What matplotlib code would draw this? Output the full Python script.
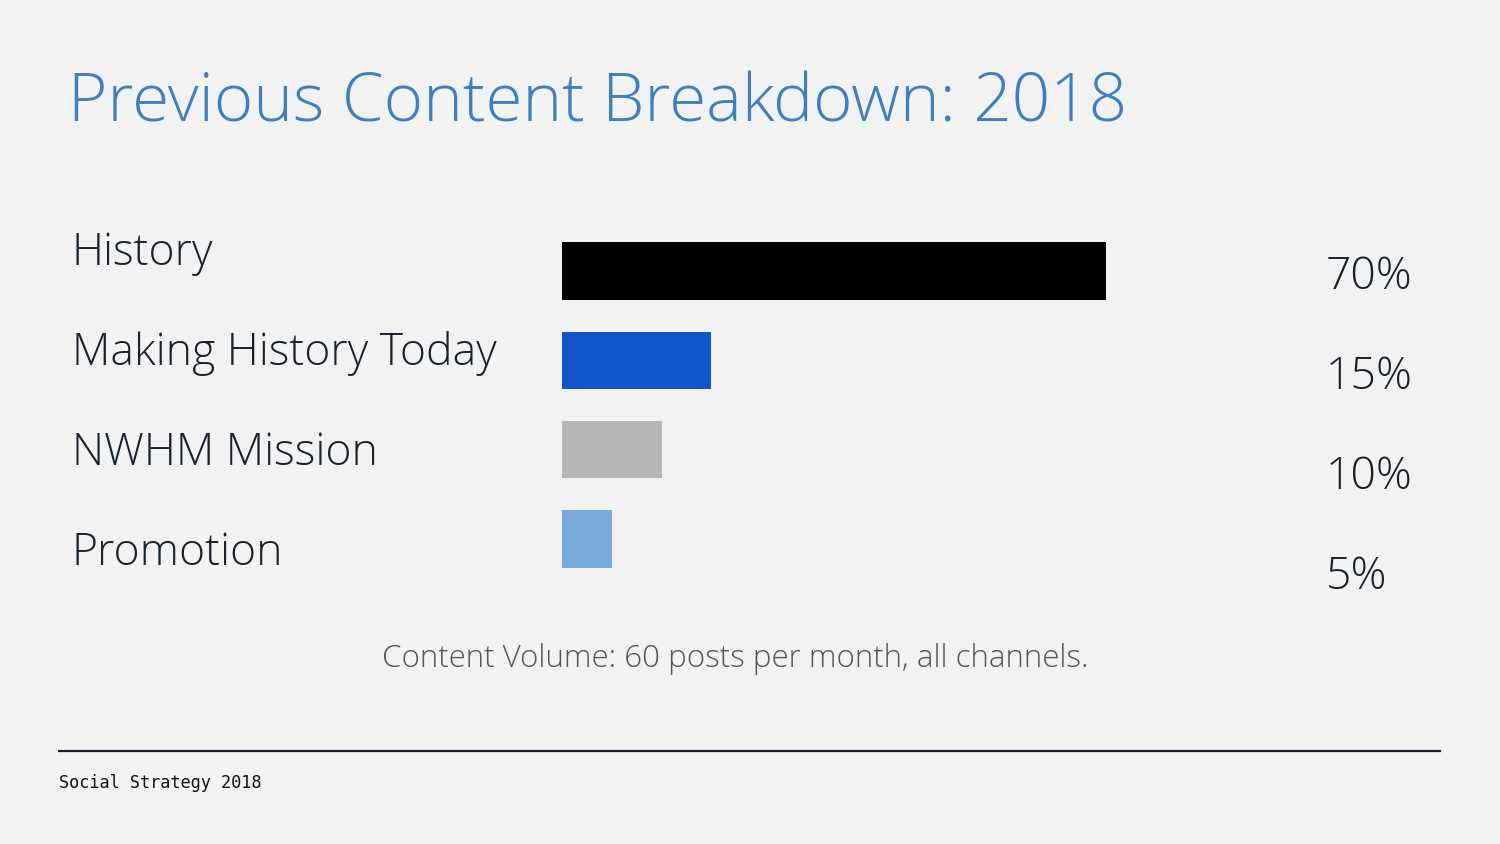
import matplotlib
matplotlib.use("Agg")
import matplotlib.pyplot as plt

# chart data
categories = ["History", "Making History Today", "NWHM Mission", "Promotion"]
percent_labels = ["70%", "15%", "10%", "5%"]
# bar lengths as drawn on the slide (not to scale with the percentages)
bar_lengths = [54.4, 14.9, 10.0, 5.0]
bar_colors = ["#000000", "#1055cc", "#b7b7b7", "#76a8dc"]

title = "Previous Content Breakdown: 2018"
note = "Content Volume: 60 posts per month, all channels."
footer = "Social Strategy 2018"

W, H = 1500, 844
bg = "#f2f2f2"
text_dark = "#17222c"
font = "Open Sans"
weight = "light"

fig = plt.figure(figsize=(W / 100, H / 100), dpi=100, facecolor=bg)


# helper: pixel coords (from top-left) to figure fractions
def px(x, y):
    return x / W, 1 - y / H


fig.text(*px(68, 122), title, fontsize=48.5, color="#3d7fc1",
         family=font, fontweight=weight, va="baseline", ha="left")

# bar axes: x=0 at 562px, 10px per unit
ax_left, ax_right = 562, 1462
ax_top, ax_bottom = 226.4, 583.6
ax = fig.add_axes([ax_left / W, 1 - ax_bottom / H,
                   (ax_right - ax_left) / W, (ax_bottom - ax_top) / H])
ax.set_facecolor("none")
ax.barh(range(len(categories)), bar_lengths, height=0.64, color=bar_colors)
ax.set_xlim(0, (ax_right - ax_left) / 10)
ax.set_ylim(len(categories) - 0.5, -0.5)
ax.axis("off")

for i, (cat, pct) in enumerate(zip(categories, percent_labels)):
    fig.text(*px(72, 265 + 100 * i), cat, fontsize=32, color=text_dark,
             family=font, fontweight=weight, va="baseline", ha="left")
    fig.text(*px(1326, 289 + 100 * i), pct, fontsize=32, color=text_dark,
             family=font, fontweight=weight, va="baseline", ha="left")

fig.text(*px(735, 667), note, fontsize=22.5, color="#555555",
         family=font, fontweight=weight, va="baseline", ha="center")

# divider line and footer
fig.add_artist(plt.Line2D([59 / W, 1440 / W], [1 - 751 / H, 1 - 751 / H],
                          color=text_dark, linewidth=1.6))
fig.text(*px(59, 788), footer, fontsize=12.2, color="#111111",
         family="DejaVu Sans Mono", va="baseline", ha="left")

fig.savefig("out.png", dpi=100, facecolor=bg)
